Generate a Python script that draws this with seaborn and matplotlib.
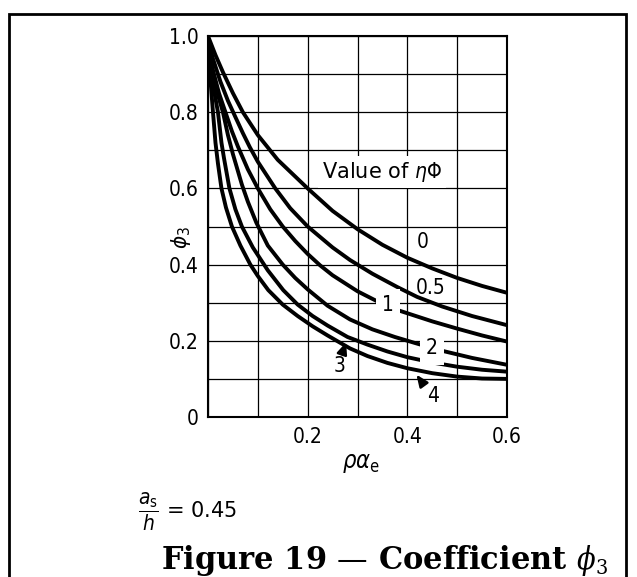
import numpy as np
import pandas as pd
import matplotlib.pyplot as plt
import seaborn as sns
from matplotlib.patches import Rectangle

# curves phi3 vs rho*alpha_e, one per value of eta*Phi
rho_eta0 = [0, 0.015, 0.03, 0.05, 0.07, 0.1, 0.14, 0.2, 0.25, 0.3, 0.35, 0.4, 0.45, 0.5, 0.55, 0.6]
phi_eta0 = [1.0, 0.95, 0.905, 0.85, 0.8, 0.74, 0.675, 0.6, 0.541, 0.493, 0.452, 0.418, 0.39, 0.365, 0.344, 0.326]

rho_eta05 = [0, 0.01, 0.025, 0.04, 0.054, 0.07, 0.084, 0.1, 0.135, 0.165, 0.2, 0.25, 0.285, 0.33, 0.38, 0.42, 0.47, 0.53, 0.6]
phi_eta05 = [0.99, 0.94, 0.88, 0.83, 0.79, 0.745, 0.708, 0.67, 0.6, 0.548, 0.5, 0.445, 0.412, 0.376, 0.341, 0.315, 0.29, 0.265, 0.241]

rho_eta1 = [0, 0.01, 0.022, 0.035, 0.048, 0.06, 0.08, 0.1, 0.125, 0.15, 0.175, 0.2, 0.225, 0.25, 0.3, 0.342, 0.382, 0.45, 0.5, 0.55, 0.6]
phi_eta1 = [0.97, 0.91, 0.85, 0.8, 0.75, 0.71, 0.65, 0.6, 0.545, 0.5, 0.462, 0.428, 0.398, 0.372, 0.33, 0.302, 0.28, 0.251, 0.232, 0.214, 0.198]

rho_eta2 = [0, 0.01, 0.02, 0.03, 0.04, 0.05, 0.068, 0.08, 0.097, 0.12, 0.15, 0.175, 0.2, 0.24, 0.285, 0.33, 0.375, 0.416, 0.466, 0.53, 0.6]
phi_eta2 = [0.96, 0.9, 0.845, 0.8, 0.74, 0.69, 0.61, 0.565, 0.51, 0.45, 0.4, 0.365, 0.335, 0.292, 0.256, 0.23, 0.21, 0.194, 0.175, 0.155, 0.137]

rho_eta3 = [0, 0.006, 0.013, 0.02, 0.027, 0.032, 0.043, 0.055, 0.068, 0.09, 0.12, 0.151, 0.18, 0.21, 0.24, 0.28, 0.32, 0.36, 0.4, 0.45, 0.5, 0.55, 0.6]
phi_eta3 = [0.95, 0.9, 0.85, 0.8, 0.72, 0.68, 0.6, 0.545, 0.5, 0.445, 0.385, 0.333, 0.295, 0.265, 0.24, 0.21, 0.19, 0.172, 0.157, 0.143, 0.132, 0.124, 0.119]

rho_eta4 = [0, 0.004, 0.01, 0.015, 0.02, 0.027, 0.036, 0.048, 0.065, 0.085, 0.1, 0.121, 0.15, 0.18, 0.21, 0.24, 0.265, 0.285, 0.32, 0.36, 0.4, 0.45, 0.5, 0.55, 0.6]
phi_eta4 = [0.94, 0.9, 0.8, 0.72, 0.665, 0.6, 0.55, 0.5, 0.45, 0.4, 0.37, 0.333, 0.295, 0.265, 0.238, 0.214, 0.195, 0.18, 0.16, 0.142, 0.128, 0.115, 0.106, 0.101, 0.1]

curve_names = ['0', '0.5', '1', '2', '3', '4']
x_ticks = [0, 0.1, 0.2, 0.3, 0.4, 0.5, 0.6]
x_tick_labels = ['', '', '0.2', '', '0.4', '', '0.6']
y_ticks = [0, 0.1, 0.2, 0.3, 0.4, 0.5, 0.6, 0.7, 0.8, 0.9, 1.0]
y_tick_labels = ['0', '', '0.2', '', '0.4', '', '0.6', '', '0.8', '', '1.0']


def main():
    sns.set_style('white')
    plt.rcParams['font.family'] = ['DejaVu Sans']
    plt.rcParams['font.stretch'] = 'condensed'
    plt.rcParams['mathtext.fontset'] = 'dejavusans'
    for key in ('text.color', 'axes.labelcolor', 'xtick.color', 'ytick.color'):
        plt.rcParams[key] = 'black'

    series = [(rho_eta0, phi_eta0), (rho_eta05, phi_eta05), (rho_eta1, phi_eta1),
              (rho_eta2, phi_eta2), (rho_eta3, phi_eta3), (rho_eta4, phi_eta4)]
    df = pd.concat([pd.DataFrame({'rho': x, 'phi3': y, 'eta': name})
                    for name, (x, y) in zip(curve_names, series)])

    fig = plt.figure(figsize=(6.37, 5.77), dpi=100)
    ax = fig.add_axes([208 / 637, 1 - 417 / 577, 299 / 637, 381 / 577])

    sns.lineplot(data=df, x='rho', y='phi3', units='eta', estimator=None, sort=False,
                 color='black', lw=2.8, solid_joinstyle='round', solid_capstyle='round',
                 legend=False, ax=ax, zorder=3)

    ax.set_xlim(0, 0.6)
    ax.set_ylim(0, 1.0)
    ax.set_xticks(x_ticks, x_tick_labels)
    ax.set_yticks(y_ticks, y_tick_labels)
    ax.tick_params(length=0, pad=7, labelsize=15)
    ax.grid(True, color='black', lw=0.9)
    ax.set_axisbelow(True)
    for s in ax.spines.values():
        s.set_color('black')
        s.set_linewidth(1.5)

    ax.set_xlabel(r'$\rho\alpha_{\mathrm{e}}$', fontsize=17)
    ax.xaxis.set_label_coords(0.51, -0.09)
    ax.set_ylabel(r'$\phi_3$', fontsize=16)
    ax.yaxis.set_label_coords(-0.05, 0.47)

    ax.text(0.229, 0.643, r'Value of $\eta\Phi$', fontsize=15, fontstretch='normal',
            va='center', ha='left',
            bbox=dict(boxstyle='square,pad=0.2', fc='white', ec='none'), zorder=4)

    label_pos = {'0': (0.43, 0.46), '0.5': (0.447, 0.338), '1': (0.361, 0.294),
                 '2': (0.449, 0.18), '3': (0.265, 0.134), '4': (0.452, 0.055)}
    gapped = ('1', '2')
    for name in curve_names:
        x, y = label_pos[name]
        bbox = dict(boxstyle='square,pad=0.3', fc='white', ec='none') if name in gapped else None
        ax.text(x, y, name, fontsize=15, ha='center', va='center', bbox=bbox, zorder=4)

    arrow = dict(arrowstyle='-|>,head_length=0.7,head_width=0.3', color='black', lw=1.8)
    ax.annotate('', xy=(0.279, 0.203), xytext=(0.267, 0.158), arrowprops=arrow, zorder=5)
    ax.annotate('', xy=(0.415, 0.117), xytext=(0.436, 0.079), arrowprops=arrow, zorder=5)

    fig.text(138 / 637, 1 - 512 / 577, r'$\dfrac{a_\mathrm{s}}{h}$ = 0.45', fontsize=15,
             fontstretch='normal', va='center', ha='left')
    fig.text(384 / 637, 1 - 569 / 577, r'Figure 19 — Coefficient $\phi_3$',
             fontsize=22, fontweight='bold', fontstretch='normal', family='DejaVu Serif',
             math_fontfamily='dejavuserif', ha='center', va='baseline')

    fig.add_artist(Rectangle((9 / 637, -0.1), 617 / 637, 1.1 - 14 / 577,
                             transform=fig.transFigure, fill=False, ec='black', lw=2))

    fig.savefig('out.png', dpi=100)


if __name__ == '__main__':
    main()
